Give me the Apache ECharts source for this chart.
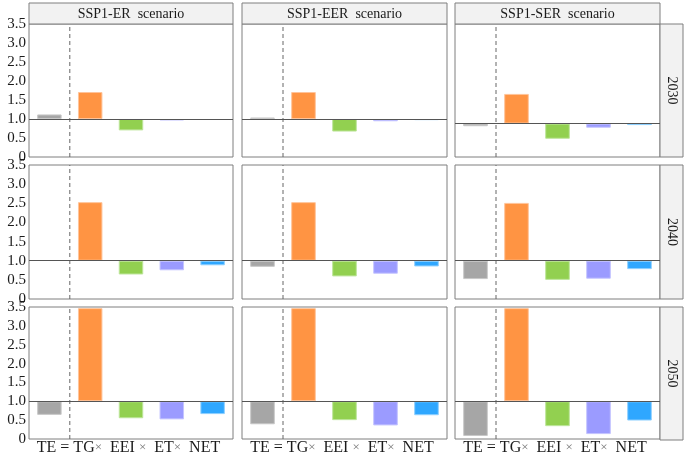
<!DOCTYPE html>
<html>
<head>
<meta charset="utf-8">
<script src="https://cdn.jsdelivr.net/npm/echarts@6/dist/echarts.min.js"></script>
<style>html,body{margin:0;padding:0;background:#fff}#c{width:685px;height:457px}</style>
</head>
<body>
<div id="c"></div>
<script>
const categories = ['TE', 'TG', 'EEI', 'ET', 'NET'];
const scenarios = ['SSP1-ER  scenario', 'SSP1-EER  scenario', 'SSP1-SER  scenario'];
const years = ['2030', '2040', '2050'];

// values per panel (ratio; bars drawn from baseline 1.0)
const er2030  = [1.12, 1.71, 0.70, 0.96, 1.00];
const eer2030 = [1.04, 1.71, 0.67, 0.94, 0.97];
const ser2030 = [0.93, 1.78, 0.60, 0.89, 0.96];
const er2040  = [1.00, 2.53, 0.64, 0.75, 0.88];
const eer2040 = [0.84, 2.53, 0.59, 0.66, 0.85];
const ser2040 = [0.52, 2.51, 0.50, 0.53, 0.78];
const er2050  = [0.64, 3.47, 0.55, 0.52, 0.66];
const eer2050 = [0.39, 3.47, 0.50, 0.36, 0.63];
const ser2050 = [0.08, 3.47, 0.34, 0.13, 0.49];

const yTickLabels = ['0', '0.5', '1.0', '1.5', '2.0', '2.5', '3.0', '3.5'];
const yMin = 0, yMax = 3.5, yStep = 0.5;
const ser2030Shift = 0.12;   // this panel's axis is shifted in the original
const baseline = 1;
const dividerAt = 1;         // dashed divider between TE and TG (category boundary)

const panels = [
  [er2030, eer2030, ser2030],
  [er2040, eer2040, ser2040],
  [er2050, eer2050, ser2050]
];

const barColors = ['#a6a6a6', '#ff9443', '#92d050', '#9b9bff', '#2fa7ff'];
const barBorders = ['#c8c8c8', '#ffc49a', '#bde59a', '#c4c4ff', '#8fd0ff'];

const colLeft = [29, 242, 455];
const colWidth = [204, 205, 205];
const rowTop = [24, 165, 307];
const rowHeight = [133, 134, 133];
const stripTop = 3, stripH = 21;
const rightStripW = 23;
const font = 'Liberation Serif';

const formula = `{t|${categories[0]}} {t|=} {t|${categories[1]}}{x|\u00d7}  {t|${categories[2]}} {x|\u00d7}  {t|${categories[3]}}{x|\u00d7}  {t|${categories[4]}}`;

const grid = [], xAxis = [], yAxis = [], series = [], graphic = [];
let gi = 0;
for (let r = 0; r < 3; r++) {
  for (let c = 0; c < 3; c++) {
    grid.push({
      left: colLeft[c], top: rowTop[r], width: colWidth[c], height: rowHeight[r],
      show: true, borderColor: '#7f7f7f', borderWidth: 1, backgroundColor: '#fff'
    });
    const isBottom = r === 2;
    // category axis for bars
    xAxis.push({
      type: 'category', gridIndex: gi, data: categories,
      axisLine: { show: false }, axisTick: { show: false }, axisLabel: { show: false },
      splitLine: { show: false },
      name: isBottom ? formula : '',
      nameLocation: 'middle', nameGap: 1,
      nameTextStyle: { verticalAlign: 'top', padding: [0, 5, 0, 0],
        fontFamily: font, fontSize: 16, color: '#1a1a1a',
        rich: {
          t: { fontFamily: font, fontSize: 16, color: '#1a1a1a' },
          x: { fontFamily: font, fontSize: 13, color: '#777' }
        } }
    });
    // companion value axis (hidden) spanning category slots 0..n for the divider
    xAxis.push({
      type: 'value', gridIndex: gi, min: 0, max: categories.length, show: false
    });
    const shifted = (r === 0 && c === 2);
    const lo = shifted ? yMin + ser2030Shift : yMin;
    const hi = shifted ? yMax + ser2030Shift : yMax;
    yAxis.push({
      type: 'value', gridIndex: gi, min: lo, max: hi, interval: yStep,
      axisLine: { show: false }, axisTick: { show: false }, splitLine: { show: false },
      axisLabel: {
        show: c === 0, fontFamily: font, fontSize: 15, color: '#1a1a1a', margin: 3,
        formatter: (v) => yTickLabels[Math.round(v / yStep)]
      }
    });
    const vals = panels[r][c];
    const xCat = gi * 2, xVal = gi * 2 + 1;
    series.push({
      type: 'line', xAxisIndex: xVal, yAxisIndex: gi, silent: true, symbol: 'none',
      lineStyle: { type: [4, 3], color: '#666', width: 1 },
      data: [[dividerAt, lo], [dividerAt, hi]]
    });
    series.push({
      type: 'bar', xAxisIndex: xCat, yAxisIndex: gi, stack: 's' + gi, barWidth: '60%',
      silent: true, itemStyle: { color: 'transparent' },
      data: vals.map(v => Math.min(v, baseline))
    });
    series.push({
      type: 'bar', xAxisIndex: xCat, yAxisIndex: gi, stack: 's' + gi, barWidth: '60%',
      data: vals.map((v, i) => ({
        value: Math.abs(v - baseline),
        itemStyle: { color: barColors[i], borderColor: barBorders[i],
          borderWidth: Math.abs(v - baseline) < 0.005 ? 0 : 1 }
      })),
      markLine: {
        silent: true, symbol: 'none', label: { show: false },
        lineStyle: { type: 'solid', color: '#555', width: 1 },
        data: [{ yAxis: baseline }]
      }
    });
    gi++;
  }
}

// top strips
for (let c = 0; c < 3; c++) {
  graphic.push({
    type: 'rect', shape: { x: colLeft[c], y: stripTop, width: colWidth[c], height: stripH },
    style: { fill: '#f2f2f2', stroke: '#7f7f7f', lineWidth: 1 }
  });
  graphic.push({
    type: 'text', x: colLeft[c] + colWidth[c] / 2, y: stripTop + stripH / 2 + 1,
    style: { text: scenarios[c], fontFamily: font, fontSize: 14, fill: '#1a1a1a',
      textAlign: 'center', textVerticalAlign: 'middle' }
  });
}
// right strips
const rx = colLeft[2] + colWidth[2];
for (let r = 0; r < 3; r++) {
  graphic.push({
    type: 'rect', shape: { x: rx, y: rowTop[r], width: rightStripW, height: rowHeight[r] },
    style: { fill: '#f2f2f2', stroke: '#7f7f7f', lineWidth: 1 }
  });
  graphic.push({
    type: 'text', x: rx + rightStripW / 2, y: rowTop[r] + rowHeight[r] / 2,
    rotation: -Math.PI / 2,
    style: { text: years[r], fontFamily: font, fontSize: 14, fill: '#1a1a1a',
      textAlign: 'center', textVerticalAlign: 'middle' }
  });
}

const chart = echarts.init(document.getElementById('c'), null, { renderer: 'canvas' });
chart.setOption({
  animation: false,
  backgroundColor: '#fff',
  grid, xAxis, yAxis, series, graphic
});
</script>
</body>
</html>
